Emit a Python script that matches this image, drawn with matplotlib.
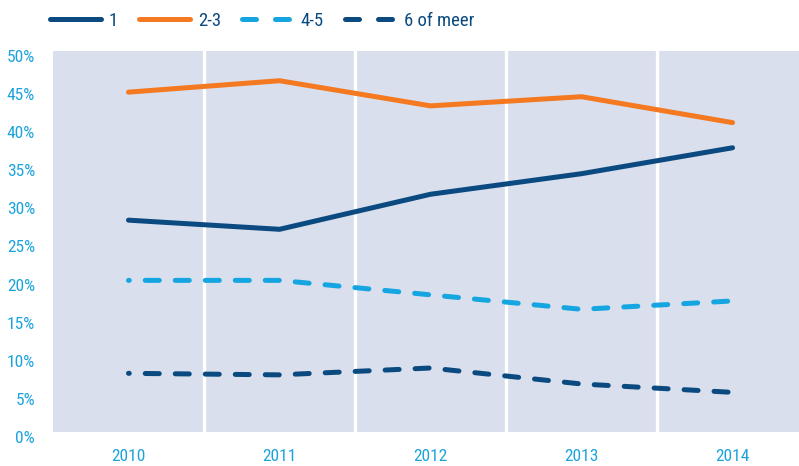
import numpy as np
import matplotlib.pyplot as plt
from matplotlib.lines import Line2D
from matplotlib.transforms import ScaledTranslation
from matplotlib import font_manager

# Aandeel huishoudens naar omvang, 2010-2014 (in %)
jaren = ['2010', '2011', '2012', '2013', '2014']
een = [27.8, 26.6, 31.2, 33.9, 37.3]
twee_drie = [44.6, 46.1, 42.8, 44.0, 40.6]
vier_vijf = [19.9, 19.9, 18.0, 16.1, 17.2]
zes_meer = [7.7, 7.5, 8.4, 6.3, 5.2]
legenda = ['1', '2-3', '4-5', '6 of meer']

navy = '#0b4a80'
oranje = '#f47920'
lichtblauw = '#15a6e1'
tekst_blauw = '#1ba3dd'
achtergrond = '#d9dfec'

# smalste beschikbare lettertype kiezen
namen = {f.name for f in font_manager.fontManager.ttflist}
voorkeur = ['Liberation Sans Narrow', 'Roboto Condensed', 'Open Sans Condensed',
            'DejaVu Sans Condensed', 'Roboto']
letter = [n for n in voorkeur if n in namen][:1] + ['DejaVu Sans']
plt.rcParams['font.family'] = letter

fig = plt.figure(figsize=(7.99, 4.66), dpi=100)
ax = fig.add_axes([53 / 799, 1 - 432 / 466, 746 / 799, 381 / 466])
ax.set_facecolor(achtergrond)

x = np.arange(len(jaren))
lw = 3.6
streep = (2.65, (2.8, 3.2))

ax.plot(x, een, color=navy, lw=lw, solid_capstyle='round', solid_joinstyle='round', zorder=3)
ax.plot(x, twee_drie, color=oranje, lw=lw, solid_capstyle='round', solid_joinstyle='round', zorder=3)
ax.plot(x, vier_vijf, color=lichtblauw, lw=lw, linestyle=streep, dash_capstyle='round', zorder=3)
ax.plot(x, zes_meer, color=navy, lw=lw, linestyle=streep, dash_capstyle='round', zorder=3)

ax.set_xlim(-0.5, 4.44)
ax.set_ylim(0, 50)

# witte scheidingslijnen tussen de jaren
for grens in x[:-1] + 0.5:
    ax.axvline(grens, color='white', lw=2.4, zorder=2)

ax.set_xticks(x)
ax.set_xticklabels(jaren)
ax.set_yticks(np.arange(0, 51, 5))
ax.set_yticklabels([f'{v}%' for v in range(0, 51, 5)])
ax.tick_params(axis='both', length=0, labelsize=12.5, labelcolor=tekst_blauw)
ax.tick_params(axis='x', pad=12)
ax.tick_params(axis='y', pad=13)
verschuiving = ScaledTranslation(0, -5 / 100, fig.dpi_scale_trans)
for lab in ax.get_yticklabels():
    lab.set_transform(lab.get_transform() + verschuiving)

for s in ax.spines.values():
    s.set_visible(False)

handles = [
    Line2D([], [], color=navy, lw=lw, solid_capstyle='round'),
    Line2D([], [], color=oranje, lw=lw, solid_capstyle='round'),
    Line2D([], [], color=lichtblauw, lw=lw, linestyle=(0, (2.8, 3.8)), dash_capstyle='round'),
    Line2D([], [], color=navy, lw=lw, linestyle=(0, (2.8, 3.8)), dash_capstyle='round'),
]
leg = fig.legend(handles, legenda, loc='center left', bbox_to_anchor=(50 / 799, 1 - 21 / 466),
                 ncol=4, frameon=False, fontsize=13.5, handlelength=2.7, handletextpad=0.45,
                 columnspacing=1.1, borderaxespad=0, borderpad=0)
for t in leg.get_texts():
    t.set_color(navy)

fig.savefig('out.png', dpi=100)
